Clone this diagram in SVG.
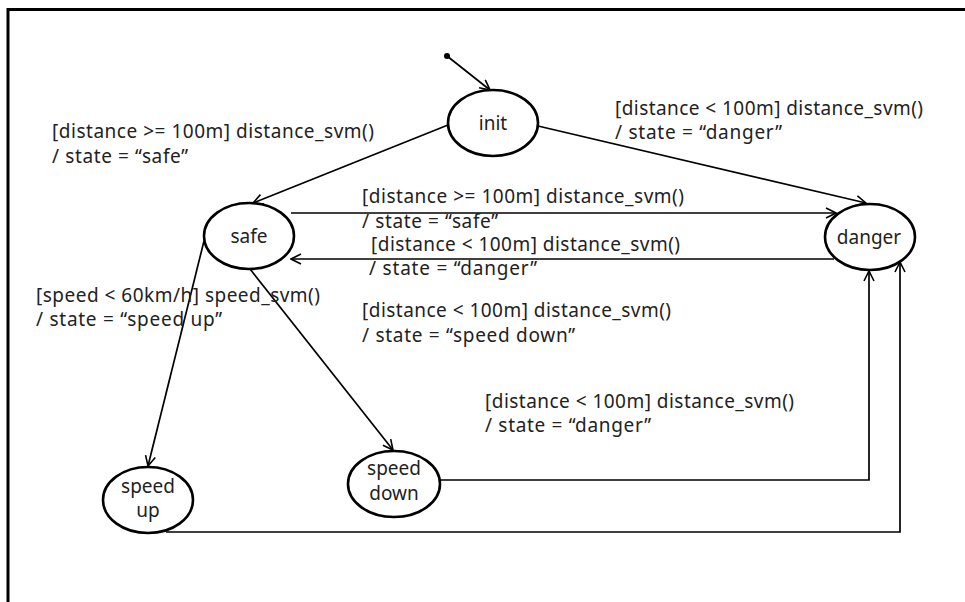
<svg xmlns="http://www.w3.org/2000/svg" width="965" height="602" viewBox="0 0 965 602">
<defs>
<marker id="arr" viewBox="0 0 12 12" refX="11" refY="6" markerWidth="12" markerHeight="12" markerUnits="userSpaceOnUse" orient="auto">
<path d="M1,1 L11,6 L1,11" fill="none" stroke="#000" stroke-width="1.6"/>
</marker>
<style>
.st ellipse{fill:#fff;stroke:#000;stroke-width:2.6}
.st text{font-family:"Noto Sans","Liberation Sans",sans-serif;font-size:19px;fill:#222;text-anchor:middle}
.cn{fill:none;stroke:#000;stroke-width:1.7}
.lb text{font-family:"Noto Sans","Liberation Sans",sans-serif;font-size:19px;fill:#222}
</style>
</defs>
<rect width="965" height="602" fill="#fff"/>
<path d="M8,602 L8,9.5 L965,9.5" fill="none" stroke="#000" stroke-width="3"/>
<g id="connectors">
<circle cx="447" cy="56" r="3" fill="#000"/>
<line class="cn" x1="447" y1="56" x2="490" y2="90" marker-end="url(#arr)"/>
<line class="cn" x1="448" y1="125" x2="253" y2="203" marker-end="url(#arr)"/>
<line class="cn" x1="538" y1="126" x2="866" y2="203" marker-end="url(#arr)"/>
<line class="cn" x1="291" y1="213" x2="836" y2="213" marker-end="url(#arr)"/>
<line class="cn" x1="834" y1="259" x2="291" y2="259" marker-end="url(#arr)"/>
<line class="cn" x1="204" y1="241" x2="148" y2="466" marker-end="url(#arr)"/>
<line class="cn" x1="250" y1="269" x2="393" y2="450" marker-end="url(#arr)"/>
<polyline class="cn" points="440,480 869,480 869,271" marker-end="url(#arr)"/>
<polyline class="cn" points="166,532 900,532 900,262" marker-end="url(#arr)"/>
</g>
<g id="init" class="st"><ellipse cx="493" cy="123" rx="45" ry="33"/><text x="493" y="130">init</text></g>
<g id="safe" class="st"><ellipse cx="249" cy="236" rx="45" ry="33"/><text x="249" y="243">safe</text></g>
<g id="danger" class="st"><ellipse cx="870" cy="237" rx="45" ry="33"/><text x="869" y="244">danger</text></g>
<g id="speed_up" class="st"><ellipse cx="148" cy="500" rx="45" ry="33"/><text x="148" y="493">speed</text><text x="148" y="517">up</text></g>
<g id="speed_down" class="st"><ellipse cx="394" cy="484" rx="46" ry="33"/><text x="394" y="475">speed</text><text x="394" y="500">down</text></g>
<g id="labels" class="lb">
<text x="52" y="138" textLength="322" lengthAdjust="spacing">[distance &gt;= 100m] distance_svm()</text>
<text x="52" y="163" textLength="136" lengthAdjust="spacing">/ state = “safe”</text>
<text x="615" y="115" textLength="308" lengthAdjust="spacing">[distance &lt; 100m] distance_svm()</text>
<text x="615" y="139" textLength="167" lengthAdjust="spacing">/ state = “danger”</text>
<text x="362" y="203" textLength="322" lengthAdjust="spacing">[distance &gt;= 100m] distance_svm()</text>
<text x="362" y="228" textLength="136" lengthAdjust="spacing">/ state = “safe”</text>
<text x="371" y="251" textLength="309" lengthAdjust="spacing">[distance &lt; 100m] distance_svm()</text>
<text x="369" y="275" textLength="168" lengthAdjust="spacing">/ state = “danger”</text>
<text x="36" y="302" textLength="284" lengthAdjust="spacing">[speed &lt; 60km/h] speed_svm()</text>
<text x="36" y="326" textLength="186" lengthAdjust="spacing">/ state = “speed up”</text>
<text x="362" y="317" textLength="309" lengthAdjust="spacing">[distance &lt; 100m] distance_svm()</text>
<text x="362" y="342" textLength="213" lengthAdjust="spacing">/ state = “speed down”</text>
<text x="485" y="408" textLength="309" lengthAdjust="spacing">[distance &lt; 100m] distance_svm()</text>
<text x="485" y="432" textLength="166" lengthAdjust="spacing">/ state = “danger”</text>
</g>
</svg>
